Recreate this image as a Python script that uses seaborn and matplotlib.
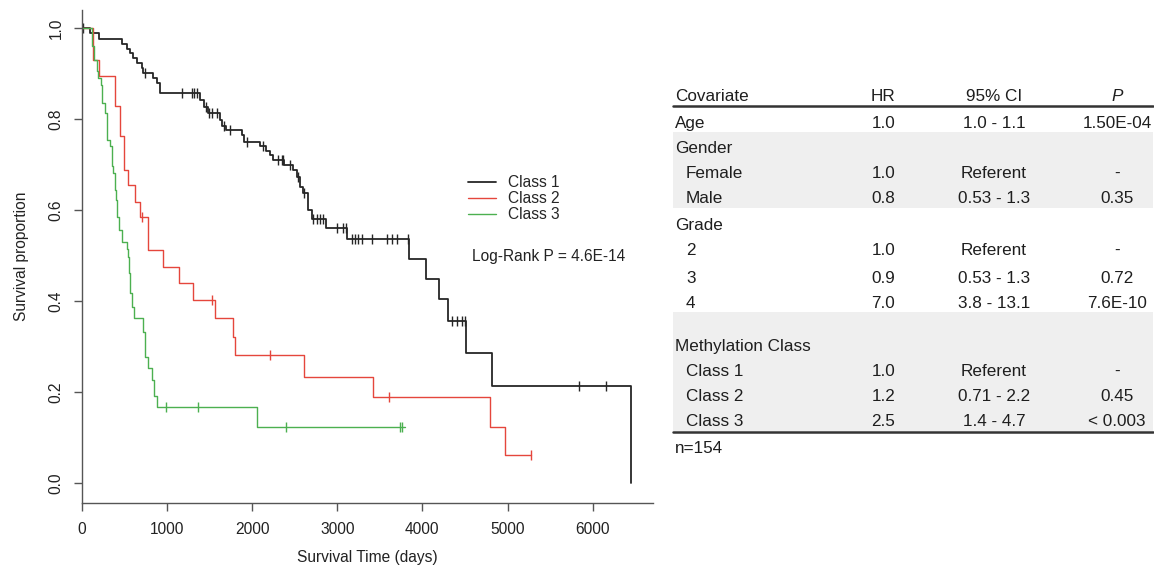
import matplotlib
matplotlib.use('Agg')
import matplotlib.pyplot as plt
from matplotlib.lines import Line2D
from matplotlib.patches import Rectangle
import numpy as np
import pandas as pd
import seaborn as sns

# Kaplan-Meier steps: time (days) and survival after each step
class1_t = [0, 97, 203, 470, 528, 567, 606, 646, 704, 720, 841, 880, 919, 1390,
            1440, 1480, 1624, 1650, 1700, 1878, 1900, 2094, 2160, 2210, 2250, 2380,
            2485, 2524, 2563, 2602, 2661, 2700, 2868, 3111, 3846, 4043, 4195, 4305,
            4509, 4821, 6449]
class1_s = [1.0, 0.989, 0.976, 0.965, 0.954, 0.945, 0.934, 0.923, 0.912, 0.902,
            0.890, 0.879, 0.858, 0.842, 0.826, 0.813, 0.798, 0.785, 0.776, 0.765,
            0.749, 0.740, 0.729, 0.722, 0.711, 0.700, 0.689, 0.674, 0.652, 0.637,
            0.601, 0.580, 0.560, 0.536, 0.493, 0.448, 0.404, 0.357, 0.286, 0.214, 0.0]
class1_cens = [20, 743, 1174, 1292, 1322, 1350, 1460, 1500, 1530, 1592, 1665, 1741,
               1937, 2132, 2309, 2348, 2367, 2440, 2544, 2615, 2720, 2759, 2798, 2837,
               2994, 3064, 3100, 3170, 3209, 3248, 3287, 3405, 3588, 3640, 3698, 3835,
               4344, 4403, 4462, 4501, 5839, 6152]

class2_t = [0, 129, 207, 391, 450, 497, 547, 626, 685, 780, 958, 1142, 1311, 1565,
            1780, 1800, 2610, 3424, 4794, 4970, 5270]
class2_s = [1.0, 0.930, 0.895, 0.828, 0.762, 0.689, 0.656, 0.619, 0.586, 0.513,
            0.476, 0.440, 0.403, 0.363, 0.322, 0.282, 0.234, 0.189, 0.123, 0.062, 0.062]
class2_cens = [704, 1526, 2211, 3612, 5270]

class3_t = [0, 117, 150, 176, 195, 227, 235, 274, 293, 332, 352, 371, 391, 405, 411,
            441, 470, 528, 540, 559, 567, 587, 595, 618, 724, 743, 782, 822, 849, 880,
            2055, 3796]
class3_s = [1.0, 0.960, 0.930, 0.905, 0.890, 0.875, 0.835, 0.813, 0.755, 0.740,
            0.696, 0.681, 0.645, 0.623, 0.586, 0.557, 0.531, 0.515, 0.498, 0.462,
            0.418, 0.404, 0.388, 0.363, 0.333, 0.278, 0.253, 0.227, 0.192, 0.168,
            0.124, 0.124]
class3_cens = [986, 1362, 2399, 3737, 3757]

class_names = ["Class 1", "Class 2", "Class 3"]
log_rank = "Log-Rank P = 4.6E-14"

# Cox model table
table_header = ["Covariate", "HR", "95% CI", "P"]
cov_labels = ["Age", "Gender", "Female", "Male", "Grade", "2", "3", "4",
              "Methylation Class", "Class 1", "Class 2", "Class 3"]
cov_indent = [False, False, True, True, False, True, True, True,
              False, True, True, True]
hr_vals = ["1.0", "", "1.0", "0.8", "", "1.0", "0.9", "7.0", "", "1.0", "1.2", "2.5"]
ci_vals = ["1.0 - 1.1", "", "Referent", "0.53 - 1.3", "", "Referent", "0.53 - 1.3",
           "3.8 - 13.1", "", "Referent", "0.71 - 2.2", "1.4 - 4.7"]
p_vals = ["1.50E-04", "", "-", "0.35", "", "-", "0.72", "7.6E-10", "", "-",
          "0.45", "< 0.003"]
n_text = "n=154"

# layout (pixels of the 1154x565 canvas)
W, H = 1154, 565
row_y = [123.3, 148.3, 173.3, 198.3, 225.7, 250.7, 278.3, 303.3,
         346, 371, 396.7, 421.7]
shade_bands = [(131.7, 208.3), (311.7, 430.5)]

colors = {"Class 1": "#262626", "Class 2": "#e5463c", "Class 3": "#4cb050"}
widths = {"Class 1": 1.3, "Class 2": 1.0, "Class 3": 1.0}


def step_frame(name, t, s):
    return pd.DataFrame({"time": t, "surv": s, "cls": name})


def censor_frame(name, t, s, cens):
    idx = np.searchsorted(t, cens, side="right") - 1
    return pd.DataFrame({"time": cens, "surv": np.asarray(s)[idx], "cls": name})


steps = pd.concat([step_frame("Class 1", class1_t, class1_s),
                   step_frame("Class 2", class2_t, class2_s),
                   step_frame("Class 3", class3_t, class3_s)])
marks = pd.concat([censor_frame("Class 1", class1_t, class1_s, class1_cens),
                   censor_frame("Class 2", class2_t, class2_s, class2_cens),
                   censor_frame("Class 3", class3_t, class3_s, class3_cens)])

sns.set_theme(style="white")
plt.rcParams["font.family"] = ["Liberation Sans", "DejaVu Sans"]

fig = plt.figure(figsize=(W / 100, H / 100), dpi=100)
ax = fig.add_axes([81.7 / W, 1 - 502.7 / H, (653 - 81.7) / W, (502.7 - 10) / H])

for name in class_names:
    sub = steps[steps["cls"] == name]
    sns.lineplot(data=sub, x="time", y="surv", ax=ax, color=colors[name],
                 lw=widths[name], drawstyle="steps-post", legend=False,
                 estimator=None, sort=False)
    msub = marks[marks["cls"] == name]
    sns.scatterplot(data=msub, x="time", y="surv", ax=ax, marker="|", s=45,
                    color=colors[name], linewidth=1.0, legend=False)

ax.set_xlim(0, 6708)
ax.set_ylim(-0.043, 1.04)
ax.set_xticks([0, 1000, 2000, 3000, 4000, 5000, 6000])
ax.set_yticks([0.0, 0.2, 0.4, 0.6, 0.8, 1.0])
ax.set_yticklabels(["0.0", "0.2", "0.4", "0.6", "0.8", "1.0"], rotation=90,
                   va="center")
for side in ["top", "right"]:
    ax.spines[side].set_visible(False)
for side in ["left", "bottom"]:
    ax.spines[side].set_color("#555555")
    ax.spines[side].set_linewidth(1.0)
ax.tick_params(axis="both", direction="out", length=6, width=1.0,
               color="#555555", labelsize=11.2, labelcolor="#222222",
               bottom=True, left=True)
ax.tick_params(axis="x", pad=8)
ax.tick_params(axis="y", pad=7)
ax.set_xlabel("Survival Time (days)", fontsize=11.2, color="#222222", labelpad=9)
ax.set_ylabel("Survival proportion", fontsize=11.2, color="#222222", labelpad=14)

handles = [Line2D([], [], color=colors[n], lw=widths[n]) for n in class_names]
ax.legend(handles, class_names, loc="upper left", frameon=False,
          bbox_to_anchor=(468 / W, 1 - 175 / H), bbox_transform=fig.transFigure,
          borderpad=0, borderaxespad=0, handlelength=1.8, handletextpad=0.8,
          labelspacing=0.08, fontsize=11.2)
fig.text(471.7 / W, 1 - 256.7 / H, log_rank, ha="left", va="center",
         fontsize=11.2, color="#222222")

# table drawn on an overlay axes in pixel units
tab = fig.add_axes([0, 0, 1, 1], facecolor="none")
tab.set_xlim(0, W)
tab.set_ylim(H, 0)
tab.axis("off")

for y0, y1 in shade_bands:
    tab.add_patch(Rectangle((673, y0), 1153 - 673, y1 - y0, color="#efefef", lw=0,
                            zorder=0))
tab.plot([673, 1153], [106, 106], color="#333333", lw=1.8)
tab.plot([673, 1153], [432.3, 432.3], color="#333333", lw=1.8)

col_x = {"label": 675, "hr": 883.3, "ci": 994, "p": 1117}
fs = 12.3
tc = "#1e1e1e"
tab.text(col_x["label"], 96.7, table_header[0], ha="left", va="center", fontsize=fs, color=tc)
tab.text(col_x["hr"], 96.7, table_header[1], ha="center", va="center", fontsize=fs, color=tc)
tab.text(col_x["ci"], 96.7, table_header[2], ha="center", va="center", fontsize=fs, color=tc)
tab.text(col_x["p"], 96.7, table_header[3], ha="center", va="center", fontsize=fs,
         color=tc, style="italic")

for lab, ind, hr, ci, p, y in zip(cov_labels, cov_indent, hr_vals, ci_vals, p_vals, row_y):
    tab.text(col_x["label"] + (11 if ind else 0), y, lab, ha="left", va="center",
             fontsize=fs, color=tc)
    tab.text(col_x["hr"], y, hr, ha="center", va="center", fontsize=fs, color=tc)
    tab.text(col_x["ci"], y, ci, ha="center", va="center", fontsize=fs, color=tc)
    tab.text(col_x["p"], y, p, ha="center", va="center", fontsize=fs, color=tc)

tab.text(col_x["label"], 448.3, n_text, ha="left", va="center", fontsize=fs, color=tc)

fig.savefig("out.png", dpi=100)
